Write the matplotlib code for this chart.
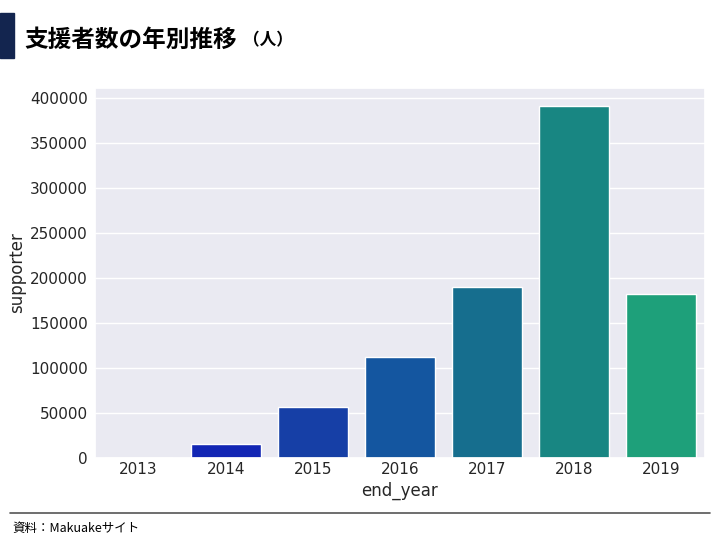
import numpy as np, pandas as pd
import matplotlib as mpl, matplotlib.pyplot as plt
import seaborn as sns
from matplotlib.patches import Rectangle
from matplotlib.lines import Line2D

years = ["2013", "2014", "2015", "2016", "2017", "2018", "2019"]
supporter = [400, 15500, 56500, 112500, 190000, 391000, 182000]
BAR_COLORS = ["#1010BE", "#1226B4", "#163FA6", "#1456A0", "#166E8E", "#188682", "#1EA07A"]
NAVY = "#13254F"

sns.set_theme(style="darkgrid")
plt.rcParams["font.family"] = ["DejaVu Sans", "Noto Sans CJK JP"]

df = pd.DataFrame({"end_year": years, "supporter": supporter})

fig = plt.figure(figsize=(7.2, 5.4), dpi=100)
fig.patch.set_facecolor("white")
ax = fig.add_axes([0.132, 0.152, 0.847, 0.685])
sns.barplot(data=df, x="end_year", y="supporter", hue="end_year",
            palette=BAR_COLORS, saturation=1, legend=False, ax=ax)
ax.set_xlabel("end_year", fontsize=12, labelpad=3)
ax.set_ylabel("supporter", fontsize=12, labelpad=3)
ax.tick_params(axis="x", labelsize=11, length=0, pad=3)
ax.tick_params(axis="y", labelsize=11, length=0, pad=5)

# header: navy block + title
fig.patches.append(Rectangle((0, 1 - 58/540), 14/720, 45/540, transform=fig.transFigure,
                             color=NAVY, zorder=5))
fig.text(24/720, 1 - 40/540, "支援者数の年別推移", fontsize=17, weight="bold",
         family="Noto Sans CJK JP", va="center", color="black")
fig.text(243/720, 1 - 40/540, "（人）", fontsize=12, weight="bold",
         family="Noto Sans CJK JP", va="center", color="black")

# footer: rule + source
fig.lines.append(Line2D([10/720, 710/720], [1 - 513/540, 1 - 513/540],
                        transform=fig.transFigure, color="#555555", lw=1.2))
fig.text(12/720, 1 - 528/540, "資料：Makuakeサイト", fontsize=9,
         family="Noto Sans CJK JP", va="center", color="black")

fig.savefig("out.png", dpi=100)
